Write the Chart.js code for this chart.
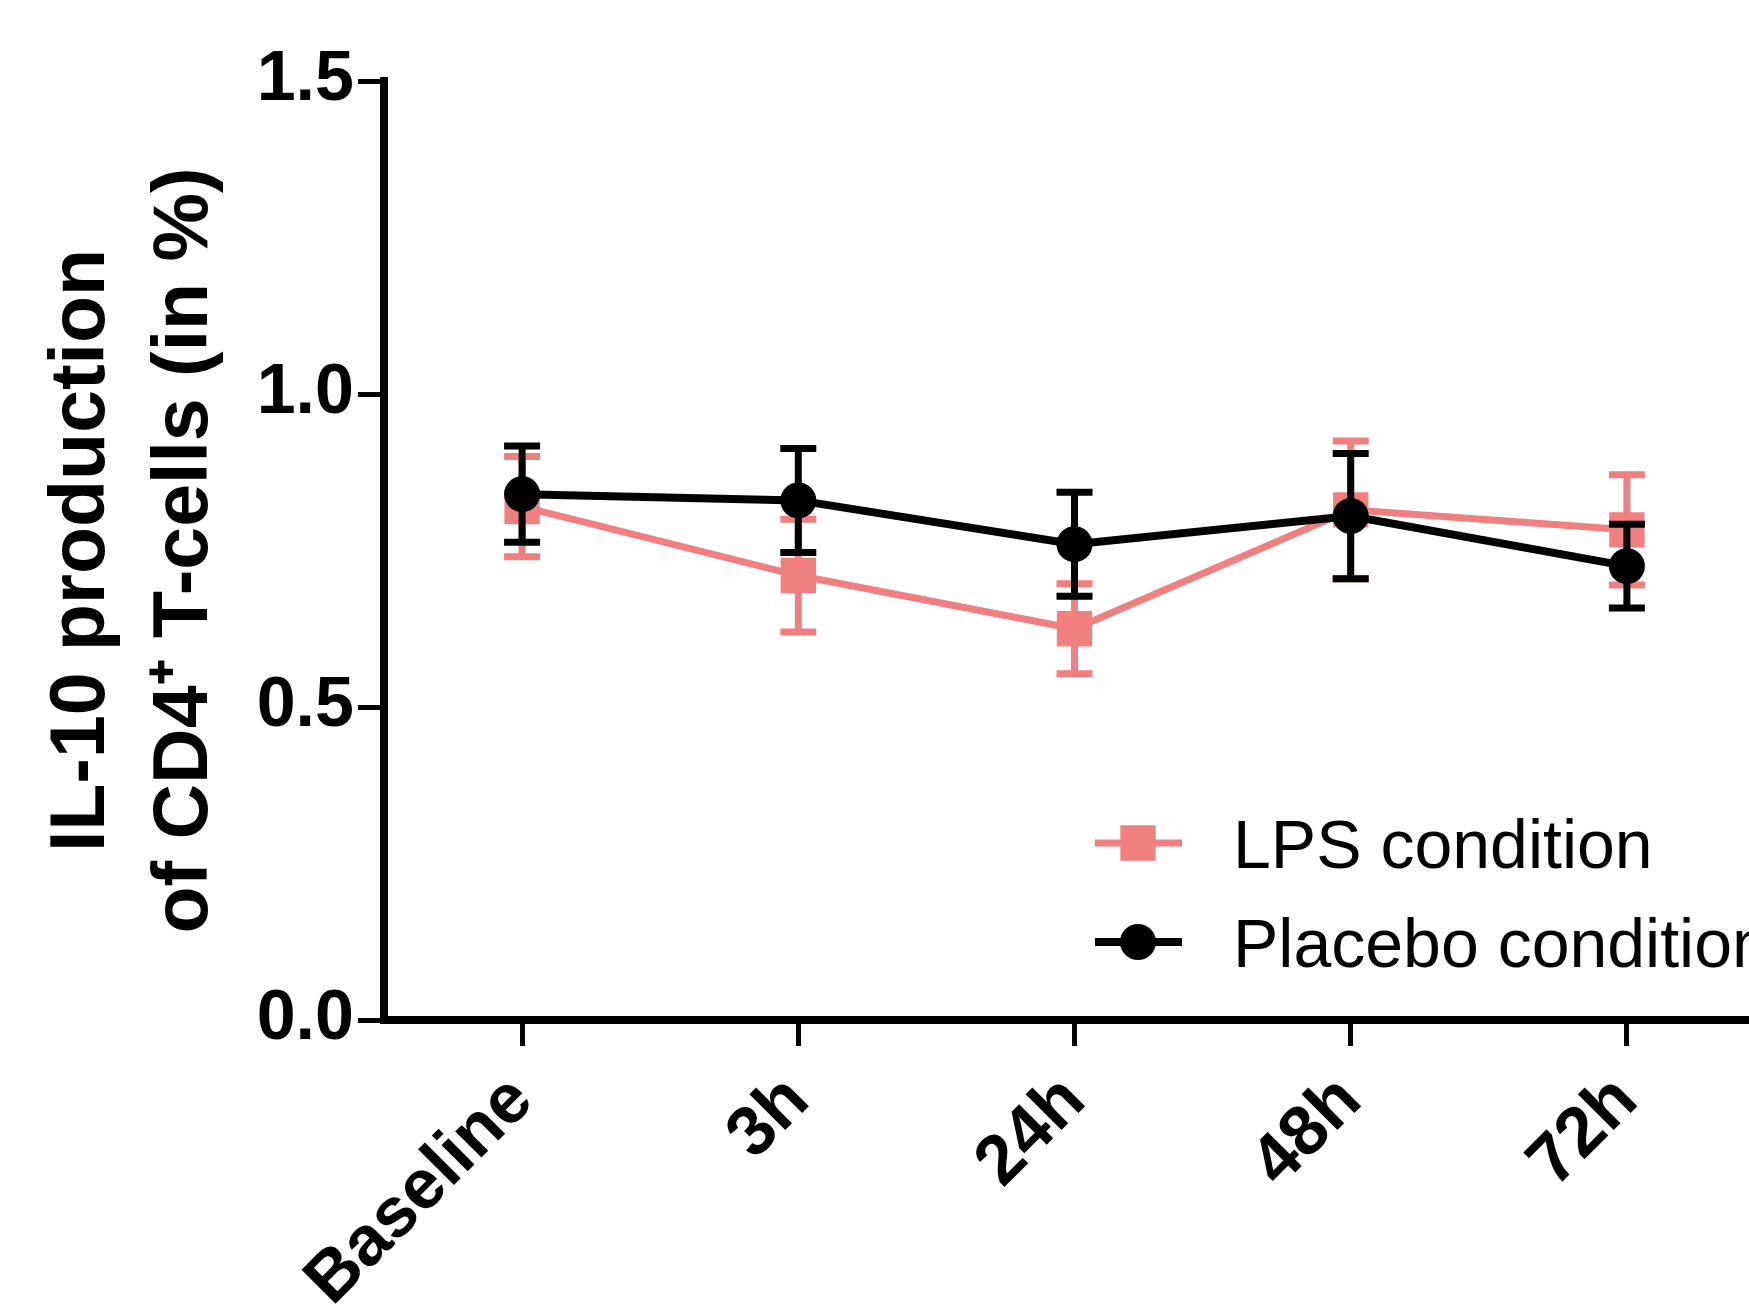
<!DOCTYPE html>
<html>
<head>
<meta charset="utf-8">
<script src="https://cdn.jsdelivr.net/npm/chart.js@4.4.1/dist/chart.umd.min.js"></script>
<style>
  html, body { margin: 0; padding: 0; background: #fff; overflow: hidden; }
  #wrap { width: 1790px; height: 1305px; }
</style>
</head>
<body>
<div id="wrap"><canvas id="chart" width="1790" height="1305"></canvas></div>
<script>
// values (mean and error per time point)
const labels = ['Baseline', '3h', '24h', '48h', '72h'];
const lpsMean = [0.82, 0.71, 0.625, 0.815, 0.783];
const lpsErr = [0.08, 0.09, 0.072, 0.11, 0.088];
const placeboMean = [0.84, 0.83, 0.76, 0.805, 0.725];
const placeboErr = [0.077, 0.083, 0.083, 0.10, 0.067];
const yTicks = [0, 0.5, 1.0, 1.5];
const yTitle = ['IL-10 production', 'of CD4⁺ T-cells (in %)'];
const legendNames = ['LPS condition', 'Placebo condition'];

const pink = '#f08080';
const FONT = '"Liberation Sans", Arial, Helvetica, sans-serif';

// error bars drawn just before each dataset so the layering follows the lines
const errorBars = {
  id: 'errorBars',
  beforeDatasetDraw(chart, args) {
    const ds = chart.data.datasets[args.index];
    if (!ds.errors) return;
    const xs = chart.scales.x, ys = chart.scales.y, ctx = chart.ctx;
    ctx.save();
    ctx.strokeStyle = ds.borderColor;
    ctx.lineWidth = 7;
    ds.data.forEach((v, i) => {
      const px = xs.getPixelForValue(i);
      const top = ys.getPixelForValue(v + ds.errors[i]);
      const bot = ys.getPixelForValue(v - ds.errors[i]);
      ctx.beginPath();
      ctx.moveTo(px, top); ctx.lineTo(px, bot);
      ctx.moveTo(px - 18, top); ctx.lineTo(px + 18, top);
      ctx.moveTo(px - 18, bot); ctx.lineTo(px + 18, bot);
      ctx.stroke();
    });
    ctx.restore();
  }
};

// legend inside the plot, like the original
const legendPlot = {
  id: 'legendPlot',
  afterDraw(chart) {
    const ctx = chart.ctx;
    chart.data.datasets.forEach((ds, i) => {
      const cy = 843 + i * 99;
      ctx.save();
      ctx.strokeStyle = ds.borderColor;
      ctx.lineWidth = ds.borderWidth;
      ctx.beginPath();
      ctx.moveTo(1095, cy);
      ctx.lineTo(1182, cy);
      ctx.stroke();
      ctx.fillStyle = ds.backgroundColor;
      Chart.helpers.drawPoint(ctx, { pointStyle: ds.pointStyle, radius: ds.pointRadius, rotation: 0, borderWidth: 0 }, 1138, cy);
      ctx.fillStyle = '#000';
      ctx.font = '68px ' + FONT;
      ctx.textBaseline = 'alphabetic';
      ctx.textAlign = 'left';
      ctx.fillText(ds.label, 1233, cy + 25);
      ctx.restore();
    });
  }
};

new Chart(document.getElementById('chart'), {
  type: 'line',
  data: {
    labels: labels,
    datasets: [
      {
        label: legendNames[0],
        data: lpsMean,
        errors: lpsErr,
        borderColor: pink,
        backgroundColor: pink,
        borderWidth: 7,
        pointStyle: 'rect',
        pointRadius: 25,
        pointHoverRadius: 25,
        pointBorderWidth: 0,
        tension: 0,
        order: 1
      },
      {
        label: legendNames[1],
        data: placeboMean,
        errors: placeboErr,
        borderColor: '#000',
        backgroundColor: '#000',
        borderWidth: 8,
        pointStyle: 'circle',
        pointRadius: 18,
        pointHoverRadius: 18,
        pointBorderWidth: 0,
        tension: 0,
        order: 0
      }
    ]
  },
  options: {
    responsive: false,
    animation: false,
    layout: { padding: { top: 81, left: 0, right: 0, bottom: 0 } },
    plugins: { legend: { display: false }, tooltip: { enabled: false } },
    scales: {
      x: {
        offset: true,
        grid: { drawOnChartArea: false, drawTicks: true, tickLength: 26, tickWidth: 5, tickColor: '#000', offset: false },
        border: { color: '#000', width: 8 },
        ticks: {
          autoSkip: false,
          minRotation: 45,
          maxRotation: 45,
          padding: 14,
          color: '#000',
          font: { family: FONT, size: 70, weight: 'bold' }
        },
        afterFit: s => { s.height = 285; }
      },
      y: {
        min: 0,
        max: 1.5,
        afterBuildTicks: s => { s.ticks = yTicks.map(v => ({ value: v })); },
        grid: { drawOnChartArea: false, drawTicks: true, tickLength: 26, tickWidth: 5, tickColor: '#000' },
        border: { color: '#000', width: 8 },
        ticks: {
          padding: 4,
          color: '#000',
          callback: v => Number(v).toFixed(1),
          font: { family: FONT, size: 70, weight: 'bold' }
        },
        title: {
          display: true,
          text: yTitle,
          color: '#000',
          font: { family: FONT, size: 77, weight: 'bold', lineHeight: 1.34 },
          padding: { top: 31, bottom: 0 }
        },
        afterFit: s => { s.width = 384; }
      }
    }
  },
  plugins: [errorBars, legendPlot]
});
</script>
</body>
</html>
